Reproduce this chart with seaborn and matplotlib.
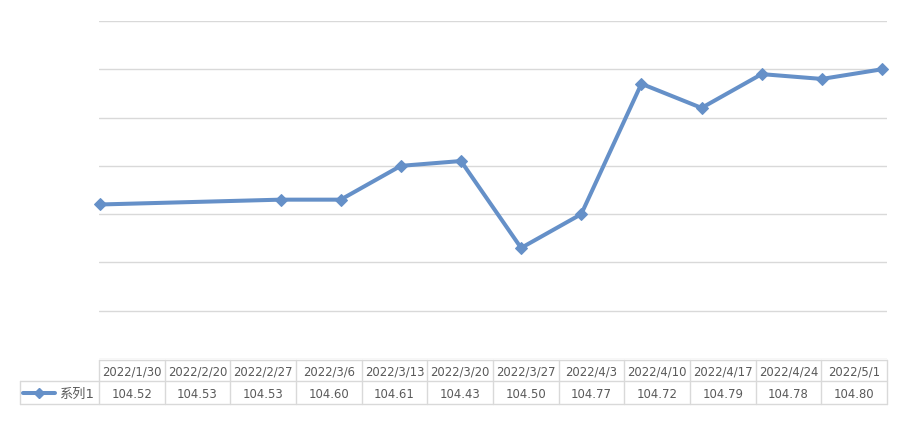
import numpy as np
import pandas as pd
import matplotlib
matplotlib.use("Agg")
import matplotlib.pyplot as plt
from matplotlib.lines import Line2D
import seaborn as sns

# data
dates = ["2022/1/30", "2022/2/20", "2022/2/27", "2022/3/6", "2022/3/13", "2022/3/20",
         "2022/3/27", "2022/4/3", "2022/4/10", "2022/4/17", "2022/4/24", "2022/5/1"]
values = [104.52, 104.53, 104.53, 104.60, 104.61, 104.43,
          104.50, 104.77, 104.72, 104.79, 104.78, 104.80]
series_name = "系列1"
y_ticks = [104.2, 104.3, 104.4, 104.5, 104.6, 104.7, 104.8, 104.9]

sns.set_style("white")
plt.rcParams['font.family'] = ['DejaVu Sans', 'Noto Sans CJK SC']

line_color = "#6590c8"
grid_color = "#d9d9d9"
text_color = "#595959"

df = pd.DataFrame({"date": pd.to_datetime(dates, format="%Y/%m/%d"), "value": values})

W, H = 900, 427
fig = plt.figure(figsize=(W / 100, H / 100), dpi=100)

# plot area in pixels
px_l, px_r, px_t, px_b = 99, 887, 22, 360
ax = fig.add_axes([px_l / W, 1 - px_b / H, (px_r - px_l) / W, (px_b - px_t) / H])

sns.lineplot(data=df, x="date", y="value", ax=ax, color=line_color, linewidth=2.9,
             marker="D", markersize=6.5, markeredgecolor=line_color, zorder=3)
for ln in ax.lines:
    ln.set_clip_on(False)

ax.set_xlim(df["date"].iloc[0] - pd.Timedelta(hours=3), df["date"].iloc[-1] + pd.Timedelta(hours=14))
ax.set_ylim(y_ticks[0], y_ticks[-1])
ax.set_yticks(y_ticks)
ax.yaxis.grid(True, color=grid_color, linewidth=1)
ax.xaxis.grid(False)
ax.tick_params(left=False, bottom=False, labelleft=False, labelbottom=False)
ax.set_xlabel("")
ax.set_ylabel("")
for s in ax.spines.values():
    s.set_visible(False)

# data table under the plot
tab = fig.add_axes([0, 0, 1, 1], zorder=-1)
tab.set_xlim(0, W)
tab.set_ylim(H, 0)
tab.axis("off")

n = len(dates)
edges = np.linspace(px_l, px_r, n + 1)
row_top, row_mid, row_bot = 361, 382, 405
leg_l = 20
lc = "#d9d9d9"

tab.plot([px_l, px_r], [row_top, row_top], color=lc, lw=1)
tab.plot([leg_l, px_r], [row_mid, row_mid], color=lc, lw=1)
tab.plot([leg_l, px_r], [row_bot, row_bot], color=lc, lw=1)
for e in edges:
    tab.plot([e, e], [row_top, row_bot], color=lc, lw=1)
tab.plot([leg_l, leg_l], [row_mid, row_bot], color=lc, lw=1)

centers = (edges[:-1] + edges[1:]) / 2
for cx, d, v in zip(centers, dates, values):
    tab.text(cx, (row_top + row_mid) / 2 + 1, d, ha="center", va="center",
             fontsize=8.4, color=text_color)
    tab.text(cx, (row_mid + row_bot) / 2 + 1, f"{v:.2f}", ha="center", va="center",
             fontsize=8.4, color=text_color)

# legend key inside the table
ly = (row_mid + row_bot) / 2
tab.add_line(Line2D([23, 55], [ly, ly], color=line_color, lw=2.9))
tab.add_line(Line2D([39], [ly], color=line_color, marker="D", markersize=5.5))
tab.text(59, ly + 1, series_name, ha="left", va="center", fontsize=9.5, color=text_color)

fig.savefig("out.png", dpi=100)
